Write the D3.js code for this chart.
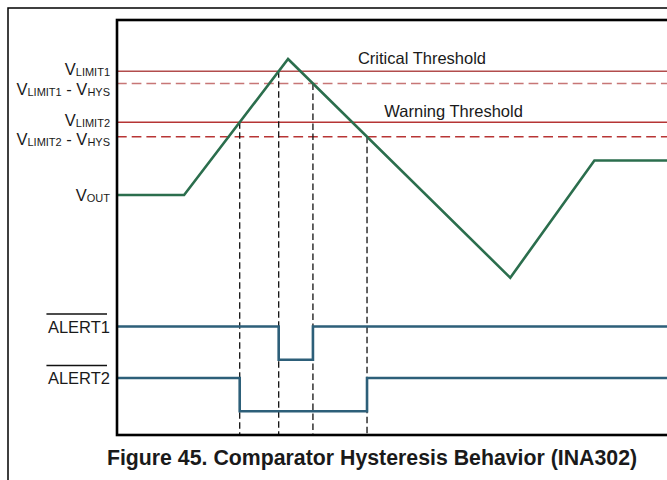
<!DOCTYPE html>
<html>
<head>
<meta charset="utf-8">
<script src="https://cdn.jsdelivr.net/npm/d3@7"></script>
<style>
  body { margin: 0; background: #fff; }
  svg { display: block; }
  text { font-family: "Liberation Sans", Arial, Helvetica, sans-serif; fill: #1a1a1a; }
</style>
</head>
<body>
<svg id="chart" width="667" height="480"></svg>
<script>
// Output voltage waveform: time in % of the sweep, voltage in arbitrary units
const voutTime  = [0, 12.2, 31.1, 71.5, 86.8, 100];
const voutLevel = [40, 40, 94.4, 6.9, 53.8, 53.8];

// Comparator limits and their hysteresis
const limitNames  = ["LIMIT1", "LIMIT2"];
const limitLevels = [89.5, 69.1];
const hysteresis  = [4.9, 5.8];
const limitTitles = ["Critical Threshold", "Warning Threshold"];

// Alert outputs (active low), one per limit
const alertNames = ["ALERT1", "ALERT2"];

const figureTitle = "Figure 45. Comparator Hysteresis Behavior (INA302)";

// ---------------------------------------------------------------------------
const svg = d3.select("#chart");
const W = 667;
const plot = { left: 117, top: 20, bottom: 435 };

const x = d3.scaleLinear([0, 100], [plot.left, W]);
const yV = d3.scaleLinear([0, 110], [295, plot.top]);
const ySig = d3.scalePoint(alertNames, [326.5, 378]);
const yLogic = d3.scaleLinear([0, 1], [33.3, 0]);

const vout = voutTime.map((t, i) => ({ t, v: voutLevel[i] }));

// Every time the waveform passes through a given level
function crossings(level) {
  const out = [];
  for (let i = 0; i < vout.length - 1; i++) {
    const a = vout[i], b = vout[i + 1];
    if ((a.v - level) * (b.v - level) < 0) {
      out.push({
        t: a.t + (level - a.v) / (b.v - a.v) * (b.t - a.t),
        dir: b.v > a.v ? "up" : "down"
      });
    }
  }
  return out;
}

// Comparator with hysteresis: trips going above the limit,
// releases once the voltage falls below limit - hysteresis
const events = [];
const alerts = limitLevels.map((lim, i) => {
  const trip = crossings(lim).find(c => c.dir === "up");
  const release = crossings(lim - hysteresis[i]).find(c => c.dir === "down" && c.t > trip.t);
  events.push({ t: trip.t, level: lim }, { t: release.t, level: lim - hysteresis[i] });
  return {
    name: alertNames[i],
    steps: [{ t: 0, s: 1 }, { t: trip.t, s: 0 }, { t: release.t, s: 1 }, { t: 100, s: 1 }]
  };
});

// Threshold lines: solid at the limit, dashed at limit - hysteresis
const thrColors = [
  { solid: "#b24c4c", dash: "#c77676" },
  { solid: "#b53434", dash: "#b83535" }
];
limitLevels.forEach((lim, i) => {
  svg.append("line")
    .attr("x1", x(0)).attr("x2", x(100))
    .attr("y1", yV(lim)).attr("y2", yV(lim))
    .attr("stroke", thrColors[i].solid).attr("stroke-width", 1.3);
  svg.append("line")
    .attr("x1", x(0)).attr("x2", x(100))
    .attr("y1", yV(lim - hysteresis[i])).attr("y2", yV(lim - hysteresis[i]))
    .attr("stroke", thrColors[i].dash).attr("stroke-width", 1.4)
    .attr("stroke-dasharray", "9.7,5");
});

// Threshold captions
const captionT = [55.45, 61.2];
limitTitles.forEach((txt, i) => {
  svg.append("text")
    .attr("x", x(captionT[i])).attr("y", yV(limitLevels[i]) - (i === 0 ? 7 : 5))
    .attr("text-anchor", "middle").attr("font-size", 16.5)
    .text(txt);
});

// Vertical markers from each switching point down to the bottom of the plot
svg.append("g").selectAll("line").data(events).join("line")
  .attr("x1", d => x(d.t)).attr("x2", d => x(d.t))
  .attr("y1", d => yV(d.level)).attr("y2", plot.bottom)
  .attr("stroke", "#111").attr("stroke-width", 1.3)
  .attr("stroke-dasharray", "6.5,3.5");

// VOUT waveform
svg.append("path")
  .datum(vout)
  .attr("d", d3.line().x(d => x(d.t)).y(d => yV(d.v)))
  .attr("fill", "none").attr("stroke", "#2b6e4d").attr("stroke-width", 2.6)
  .attr("stroke-linejoin", "miter");

// Alert outputs
svg.append("g").selectAll("path").data(alerts).join("path")
  .attr("d", a => d3.line().curve(d3.curveStepAfter)
    .x(d => x(d.t)).y(d => ySig(a.name) + yLogic(d.s))(a.steps))
  .attr("fill", "none").attr("stroke", "#2d5f79").attr("stroke-width", 2.6);

// Left-hand level labels with subscripts
const levelLabels = [
  { v: limitLevels[0], main: "LIMIT1", nudge: -2.5 },
  { v: limitLevels[0] - hysteresis[0], main: "LIMIT1", nudge: 5.5, withHys: true },
  { v: limitLevels[1], main: "LIMIT2", nudge: -2 },
  { v: limitLevels[1] - hysteresis[1], main: "LIMIT2", nudge: 2.5, withHys: true },
  { v: voutLevel[0], main: "OUT", nudge: -0.5 }
];
levelLabels.forEach(l => {
  const t = svg.append("text")
    .attr("x", 110).attr("y", yV(l.v) + l.nudge + 6)
    .attr("text-anchor", "end").attr("font-size", 16.5);
  t.append("tspan").text("V");
  t.append("tspan").attr("font-size", 11).attr("dy", 1).text(l.main);
  if (l.withHys) {
    t.append("tspan").attr("dy", -1).text(" - V");
    t.append("tspan").attr("font-size", 11).attr("dy", 1).text("HYS");
  }
});

// Alert labels with overbars (active low)
alertNames.forEach(name => {
  const base = ySig(name) + 6;
  const t = svg.append("text")
    .attr("x", 110).attr("y", base)
    .attr("text-anchor", "end").attr("font-size", 16.5)
    .text(name);
  const bb = t.node().getBBox();
  svg.append("line")
    .attr("x1", bb.x - 1.5).attr("x2", bb.x + bb.width - 3)
    .attr("y1", base - 18.5).attr("y2", base - 18.5)
    .attr("stroke", "#111").attr("stroke-width", 1.5);
});

// Plot frame (open to the right)
svg.append("rect")
  .attr("x", plot.left).attr("y", plot.top)
  .attr("width", 700).attr("height", plot.bottom - plot.top)
  .attr("fill", "none").attr("stroke", "#000").attr("stroke-width", 2.6);

// Outer figure border
svg.append("rect")
  .attr("x", 8).attr("y", 8).attr("width", 800).attr("height", 600)
  .attr("fill", "none").attr("stroke", "#000").attr("stroke-width", 1.5);

// Caption
svg.append("text")
  .attr("x", 372).attr("y", 465)
  .attr("text-anchor", "middle").attr("font-size", 21.3).attr("font-weight", "bold")
  .text(figureTitle);
</script>
</body>
</html>
